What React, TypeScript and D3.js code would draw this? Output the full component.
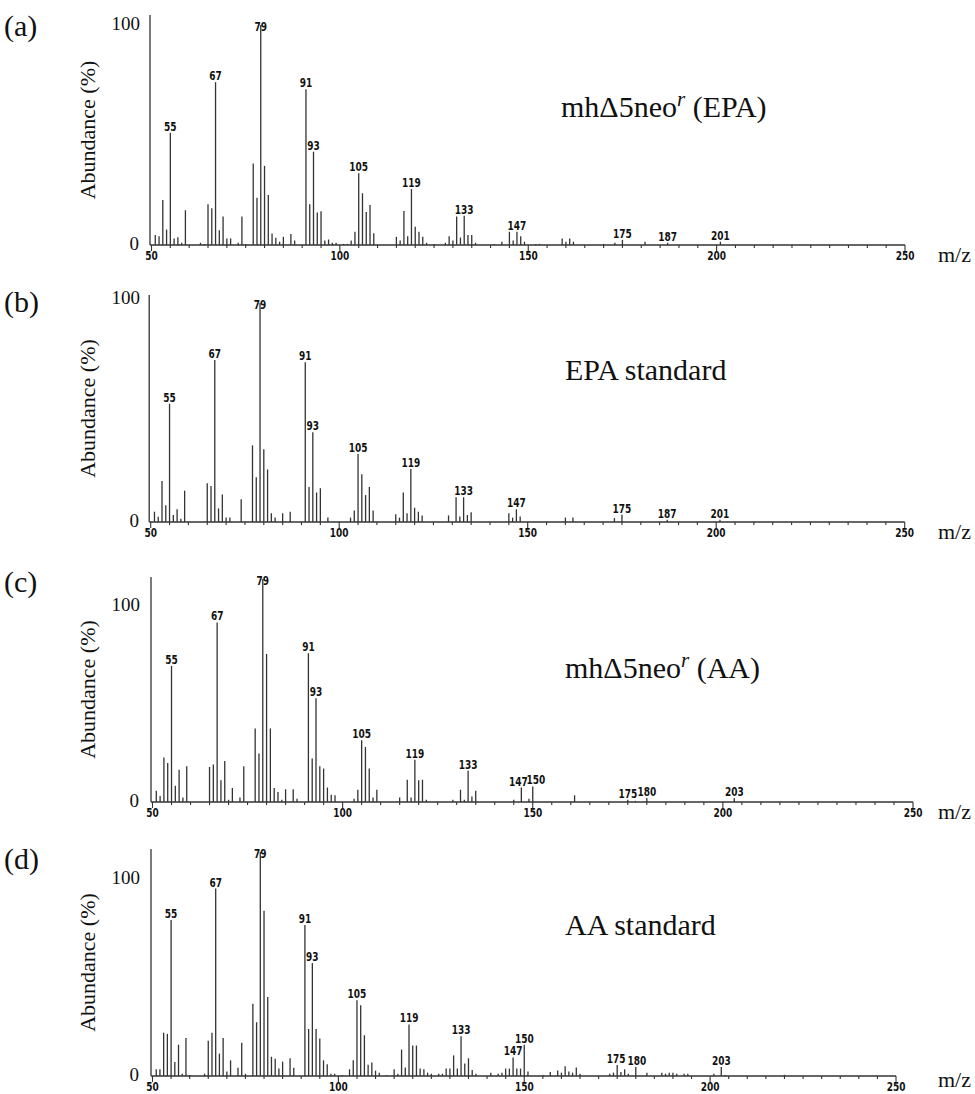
import React from 'react';
import * as d3 from 'd3';

// peaks: [m/z, relative abundance %]
const peaksA: [number, number][] = [
  [51, 4.5], [52, 4], [53, 20.5], [54, 7], [55, 51], [56, 3], [57, 3.5], [58, 1], [59, 15.8],
  [63, 1], [64, 0.5], [65, 18.5], [66, 16.7], [67, 74], [68, 6.7], [69, 12.9], [70, 3], [71, 3],
  [73, 1], [74, 12.9], [75, 0.5], [77, 37], [78, 21.5], [79, 100], [80, 36], [81, 22.7], [82, 5.2],
  [83, 3.3], [84, 1.5], [85, 3.7], [87, 5], [88, 2], [91, 70.8], [92, 18.5], [93, 42.4], [94, 14.8],
  [95, 15.3], [96, 2], [97, 2.5], [98, 1], [99, 1], [101, 0.5], [102, 0.5], [103, 2], [104, 6],
  [105, 32.6], [106, 23.5], [107, 15], [108, 18.2], [109, 5.3], [115, 3.7], [116, 2], [117, 15.5],
  [118, 4], [119, 25.5], [120, 8.3], [121, 6], [122, 3.7], [123, 1], [125, 0.5], [128, 1], [129, 4],
  [130, 2], [131, 12.9], [132, 3.4], [133, 13.3], [134, 4.5], [135, 4.5], [136, 1], [141, 0.5],
  [143, 1.5], [145, 6], [146, 2], [147, 6], [148, 4], [149, 1.5], [152, 0.5], [153, 0.5], [159, 3],
  [160, 1.5], [161, 3], [162, 1.5], [170, 0.5], [173, 1], [175, 2.3], [181, 1.5], [187, 1], [201, 1.5],
];

const peaksB: [number, number][] = [
  [51, 4.7], [52, 2.4], [53, 18.7], [54, 7.6], [55, 54], [56, 3.2], [57, 5.8], [58, 1.5], [59, 14.3],
  [65, 17.7], [66, 16.4], [67, 74], [68, 6.2], [69, 12.6], [70, 2], [71, 2], [74, 10.4], [77, 35],
  [78, 20.4], [79, 100], [80, 33.2], [81, 24], [82, 4], [83, 2], [85, 4], [87, 4.7], [91, 73],
  [92, 16], [93, 41], [94, 13.5], [95, 15.4], [97, 2], [103, 2], [104, 5.2], [105, 31], [106, 21.8],
  [107, 12.3], [108, 16], [109, 5.2], [115, 3.5], [116, 2], [117, 13.5], [118, 4], [119, 24.2],
  [120, 6.5], [121, 4.7], [122, 3], [129, 3], [131, 11.3], [132, 2.5], [133, 11.3], [134, 3.2],
  [135, 4.4], [145, 4], [146, 2], [147, 5.8], [148, 2.5], [160, 2], [162, 2], [173, 1.8], [175, 3.3],
  [187, 1], [201, 1],
];

const peaksC: [number, number][] = [
  [51, 5], [52, 2.7], [53, 20], [54, 17.5], [55, 61], [56, 7.3], [57, 14.5], [58, 2], [59, 16],
  [65, 15.7], [66, 16.8], [67, 80.5], [68, 9.7], [69, 18.4], [70, 1], [71, 6.3], [73, 2], [74, 16],
  [77, 33], [78, 21.7], [79, 100], [80, 66.4], [81, 33], [82, 6.3], [83, 4.5], [84, 1], [85, 5.7],
  [87, 5.7], [88, 1.5], [91, 66.7], [92, 19.5], [93, 46.5], [94, 16], [95, 15], [96, 6.5], [97, 3.3],
  [98, 3], [103, 1.5], [104, 5.5], [105, 27.7], [106, 24.7], [107, 15], [108, 2], [109, 5.5],
  [115, 2], [117, 10], [118, 2], [119, 19], [120, 9.7], [121, 10], [122, 1], [129, 1], [131, 5.5],
  [132, 1], [133, 14], [134, 2.5], [135, 5], [145, 1], [147, 6.5], [149, 1.5], [150, 7], [161, 3],
  [175, 1], [177, 0.5], [180, 1.8], [203, 1.8],
];

const peaksD: [number, number][] = [
  [51, 3], [52, 3], [53, 19.3], [54, 18.8], [55, 69.6], [56, 6.2], [57, 14], [58, 1], [59, 17],
  [60, 0.5], [64, 1], [65, 15.7], [66, 19.3], [67, 83.7], [68, 10], [69, 17], [70, 2], [71, 7],
  [73, 3.7], [74, 14.8], [75, 1], [77, 32.3], [78, 24], [79, 100], [80, 73.8], [81, 35.3], [82, 8.6],
  [83, 7.7], [84, 3.3], [85, 6.4], [87, 7.9], [88, 3.7], [91, 67.4], [92, 21], [93, 50.4], [94, 21],
  [95, 16.7], [96, 7], [97, 5.2], [98, 1], [99, 1], [101, 0.5], [103, 3], [104, 7], [105, 33.8],
  [106, 31.6], [107, 18.2], [108, 5], [109, 6], [110, 2.4], [111, 1.5], [113, 0.5], [115, 3],
  [116, 1], [117, 11.8], [118, 3.8], [119, 23], [120, 13.6], [121, 13.6], [122, 3.3], [123, 3],
  [124, 1.5], [125, 1], [127, 1], [128, 1], [129, 3.3], [130, 3.3], [131, 9.2], [132, 3.3],
  [133, 17.8], [134, 5.6], [135, 7.9], [136, 2.7], [137, 1], [141, 1.5], [143, 1], [144, 1.5],
  [145, 3.3], [146, 3.3], [147, 8.3], [148, 3.3], [149, 3.3], [150, 14], [151, 2], [155, 0.5],
  [157, 1.8], [159, 2.4], [160, 1.5], [161, 4.4], [162, 2], [163, 1.5], [164, 3.8], [165, 1],
  [173, 1], [174, 1.5], [175, 4.9], [176, 1.8], [177, 3], [178, 1], [180, 4], [183, 1.5], [187, 1.5],
  [188, 1], [189, 1.5], [190, 1.5], [191, 1], [193, 1], [194, 1], [201, 1], [203, 4], [204, 0.5],
  [220, 0.5],
];

const labelsEPA = [55, 67, 79, 91, 93, 105, 119, 133, 147, 175, 187, 201];
const labelsAA = [55, 67, 79, 91, 93, 105, 119, 133, 147, 150, 175, 180, 203];
const mzTicks = [50, 100, 150, 200, 250];

const serif = "'Liberation Serif', 'Times New Roman', serif";
const sans = "'DejaVu Sans', sans-serif";

// layout of the four stacked panels
const panels = [
  { tag: '(a)', peaks: peaksA, labels: labelsEPA, main: 'mh\u03945neo', sup: 'r', rest: ' (EPA)',
    x0: 151.5, x1: 905, y0: 245, y100: 25, top: 15, tagY: 36, hundredY: 30, titleX: 561, titleY: 117, shift: {} },
  { tag: '(b)', peaks: peaksB, labels: labelsEPA, main: 'EPA standard', sup: '', rest: '',
    x0: 150.7, x1: 904.7, y0: 522, y100: 303, top: 295, tagY: 312, hundredY: 304, titleX: 565, titleY: 380, shift: {} },
  { tag: '(c)', peaks: peaksC, labels: labelsAA, main: 'mh\u03945neo', sup: 'r', rest: ' (AA)',
    x0: 152.5, x1: 913, y0: 802, y100: 579, top: 577, tagY: 592, hundredY: 611, titleX: 565, titleY: 678, shift: { 147: -3, 150: 3 } },
  { tag: '(d)', peaks: peaksD, labels: labelsAA, main: 'AA standard', sup: '', rest: '',
    x0: 152.5, x1: 896, y0: 1076, y100: 852, top: 849, tagY: 869, hundredY: 884, titleX: 565, titleY: 935, shift: { 175: -1, 180: 1 } },
];

// small bold condensed digits like the instrument printout
const Num = ({ x, y, v }: { x: number; y: number; v: number }) => (
  <text transform={`translate(${x},${y}) scale(0.72,1)`} textAnchor="middle" fontFamily={sans}
    fontWeight="bold" fontSize={12.5} fill="#111">
    {v}
  </text>
);

const Panel = ({ p }: { p: (typeof panels)[number] }) => {
  const x = d3.scaleLinear().domain([50, 250]).range([p.x0, p.x1]);
  const y = d3.scaleLinear().domain([0, 100]).range([p.y0, p.y100]);
  const minor = d3.range(50, 251, 5);
  const byMz = new Map(p.peaks);
  const midY = (p.y0 + p.top) / 2;

  return (
    <g>
      <text x={4} y={p.tagY} fontFamily={serif} fontSize={30} fill="#111">{p.tag}</text>
      <text x={140} y={p.hundredY} textAnchor="end" fontFamily={serif} fontSize={19} fill="#111">100</text>
      <text x={139} y={p.y0 + 5} textAnchor="end" fontFamily={serif} fontSize={19} fill="#111">0</text>
      <text transform={`translate(95,${midY}) rotate(-90)`} textAnchor="middle" fontFamily={serif} fontSize={22} fill="#111">
        Abundance (%)
      </text>

      {/* axes */}
      <line x1={p.x0 - 1.5} x2={p.x0 - 1.5} y1={p.y0} y2={p.top} stroke="#333" strokeWidth={1.3} />
      <line x1={p.x0 - 1.5} x2={p.x1} y1={p.y0} y2={p.y0} stroke="#333" strokeWidth={1.3} />
      {minor.map((t) => (
        <line key={t} x1={x(t)} x2={x(t)} y1={p.y0} y2={p.y0 + (t % 50 === 0 ? 6 : 3)} stroke="#333" strokeWidth={1.1} />
      ))}
      {mzTicks.map((t) => (
        <Num key={t} x={x(t)} y={p.y0 + 15} v={t} />
      ))}
      <text x={938} y={Math.min(p.y0 + 17, 1087)} fontFamily={serif} fontSize={22} fill="#111">m/z</text>

      {/* spectrum */}
      {p.peaks.map(([mz, v]) => (
        <line key={mz} x1={x(mz)} x2={x(mz)} y1={p.y0} y2={y(v)} stroke="#333" strokeWidth={1.3} />
      ))}
      {p.labels.map((mz) => {
        const v = byMz.get(mz) ?? 0;
        const ly = mz === 79 ? y(100) + 6 : y(v) - 2;
        const dx = (p.shift as Record<number, number>)[mz] ?? 0;
        return <Num key={mz} x={x(mz) + dx} y={ly} v={mz} />;
      })}

      <text x={p.titleX} y={p.titleY} fontFamily={serif} fontSize={30} fill="#111">
        {p.main}
        {p.sup && (
          <tspan fontStyle="italic" fontSize={21} dy={-11}>{p.sup}</tspan>
        )}
        {p.rest && <tspan dy={p.sup ? 11 : 0}>{p.rest}</tspan>}
      </text>
    </g>
  );
};

export default function App() {
  return (
    <svg width={975} height={1094} style={{ position: 'absolute', left: 0, top: 0, background: '#fff' }}>
      <rect width={975} height={1094} fill="#fff" />
      {panels.map((p) => (
        <Panel key={p.tag} p={p} />
      ))}
    </svg>
  );
}
